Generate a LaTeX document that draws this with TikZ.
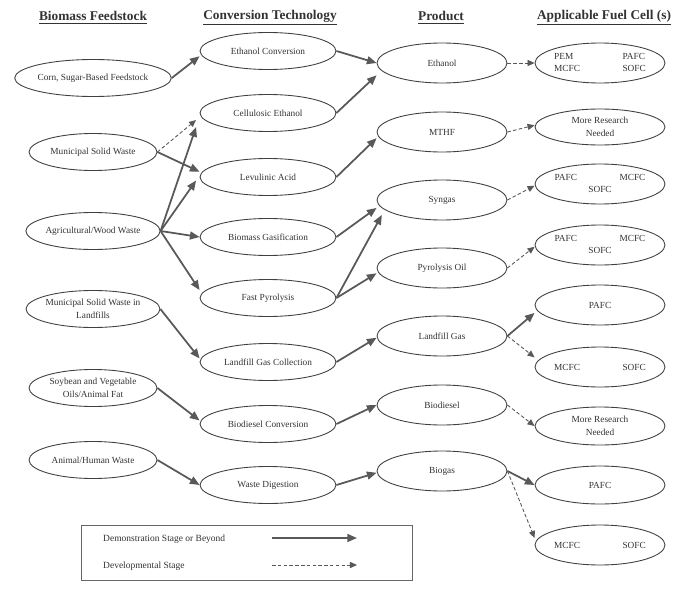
\documentclass[tikz,border=0pt]{standalone}
\usepackage{fontspec}
\setmainfont{Liberation Serif}
\usetikzlibrary{arrows.meta,shapes.geometric}

\begin{document}
\begin{tikzpicture}[x=0.02cm,y=-0.02cm,
  oval/.style={ellipse,draw=black!75,line width=.5pt,fill=white,minimum width=2.6cm,minimum height=.76cm,
    inner sep=0pt,align=center,text=black!80,font=\fontsize{5.3}{7.2}\selectfont},
  hdr/.style={font=\fontsize{7.6}{9}\selectfont\bfseries,text=black!80},
  demo/.style={draw=black!65,line width=1pt,-{Triangle[length=5.5pt,width=4.5pt]}},
  devl/.style={draw=black!65,line width=.5pt,dash pattern=on 2pt off 1.3pt,-{Triangle[length=4pt,width=3.5pt]}}]
  \useasboundingbox[fill=white] (0,0) rectangle (679,598);

  % column heads
  \node[hdr] (hfeed) at (93,18) {\underline{Biomass Feedstock}};
  \node[hdr] (hconv) at (270,18) {\underline{Conversion Technology}};
  \node[hdr] (hprod) at (441,18) {\underline{Product}};
  \node[hdr] (hcell) at (604,18) {\underline{Applicable Fuel Cell (s)}};

  % feedstocks
  \foreach \n/\y/\t in {corn/78/{Corn, Sugar-Based Feedstock},msw/152/Municipal Solid Waste,
    agw/231/{Agricultural/Wood Waste},mswl/309/{Municipal Solid Waste in\\Landfills},
    soy/388/{Soybean and Vegetable\\Oils/Animal Fat},ahw/460/{Animal/Human Waste}}
    \node[oval,minimum width=2.56cm,minimum height=.74cm] (\n) at (93,\y) {\t};

  % conversion technologies
  \foreach \n/\y/\t in {ethc/51/Ethanol Conversion,cell/113/Cellulosic Ethanol,levu/177/Levulinic Acid,
    gasi/237/Biomass Gasification,pyro/298/Fast Pyrolysis,lfgc/362/Landfill Gas Collection,
    biod/424/Biodiesel Conversion,wdig/485/Waste Digestion}
    \node[oval,minimum width=2.72cm,minimum height=.74cm] (\n) at (268,\y) {\t};

  % products
  \foreach \n/\y/\t in {etoh/63/Ethanol,mthf/132/MTHF,syng/200/Syngas,pyoil/268/Pyrolysis Oil,
    lfg/336/Landfill Gas,bdsl/405/Biodiesel,bgas/471/Biogas}
    \node[oval,minimum height=.8cm] (\n) at (442,\y) {\t};

  % fuel cells
  \node[oval,minimum height=.8cm] (fcetoh) at (600,63)
    {\begin{tabular}{@{}l@{\hspace{.85cm}}l@{}}PEM&PAFC\\MCFC&SOFC\end{tabular}};
  \node[oval,minimum height=.72cm] (fcmthf) at (600,127) {More Research\\Needed};
  \node[oval,minimum height=.8cm] (fcsyng) at (600,184)
    {\begin{tabular}{@{}l@{\hspace{.85cm}}l@{}}PAFC&MCFC\\\multicolumn{2}{c}{SOFC}\end{tabular}};
  \node[oval,minimum height=.8cm] (fcpyro) at (600,245)
    {\begin{tabular}{@{}l@{\hspace{.85cm}}l@{}}PAFC&MCFC\\\multicolumn{2}{c}{SOFC}\end{tabular}};
  \node[oval,minimum height=.8cm] (fclfga) at (600,305) {PAFC};
  \node[oval,minimum height=.8cm] (fclfgb) at (600,367) {MCFC\hspace{.85cm}SOFC};
  \node[oval,minimum height=.76cm] (fcbdsl) at (600,426) {More Research\\Needed};
  \node[oval,minimum height=.76cm] (fcbgsa) at (600,485) {PAFC};
  \node[oval,minimum height=.8cm] (fcbgsb) at (600,545) {MCFC\hspace{.85cm}SOFC};

  % demonstration stage or beyond
  \foreach \s/\t/\dx/\dy in {corn/ethc/0/-3,msw/levu/0/3,agw/cell/-2/-8,agw/levu/-2/-2,
    agw/gasi/0/0,agw/pyro/0/4.5,mswl/lfgc/0/2,soy/biod/0/2,ahw/wdig/0/0,
    ethc/etoh/0/0,cell/etoh/0/-7,levu/mthf/0/-3.5,gasi/syng/0/-4.5,pyro/syng/3/-8.5,
    pyro/pyoil/0/-3,lfgc/lfg/0/-1,biod/bdsl/0/0,wdig/bgas/0/-1,lfg/fclfga/0/-4.5,bgas/fcbgsa/0/0}
    \draw[demo] (\s.east) -- ([xshift=\dx pt,yshift=\dy pt]\t.west);

  % developmental stage
  \foreach \s/\t/\dx/\dy in {msw/cell/-2/-4,etoh/fcetoh/0/0,mthf/fcmthf/0/1,syng/fcsyng/0/-1,
    pyoil/fcpyro/0/-1,lfg/fclfgb/0/5.5,bdsl/fcbdsl/0/0,bgas/fcbgsb/0/4}
    \draw[devl] (\s.east) -- ([xshift=\dx pt,yshift=\dy pt]\t.west);

  % legend
  \node[draw=black!60,line width=.5pt,minimum width=6.62cm,minimum height=1.1cm] (legend) at (246.5,552.5) {};
  \node[anchor=west,text=black!80,font=\fontsize{5.4}{7}\selectfont] (ldemo) at (97,539) {Demonstration Stage or Beyond};
  \node[anchor=west,text=black!80,font=\fontsize{5.4}{7}\selectfont] (ldevl) at (97,566) {Developmental Stage};
  \coordinate (demoa) at (272,538);
  \coordinate (demob) at (357,538);
  \coordinate (devla) at (272,565);
  \coordinate (devlb) at (357,565);
  \draw[demo] (demoa) -- (demob);
  \draw[devl] (devla) -- (devlb);
\end{tikzpicture}
\end{document}
